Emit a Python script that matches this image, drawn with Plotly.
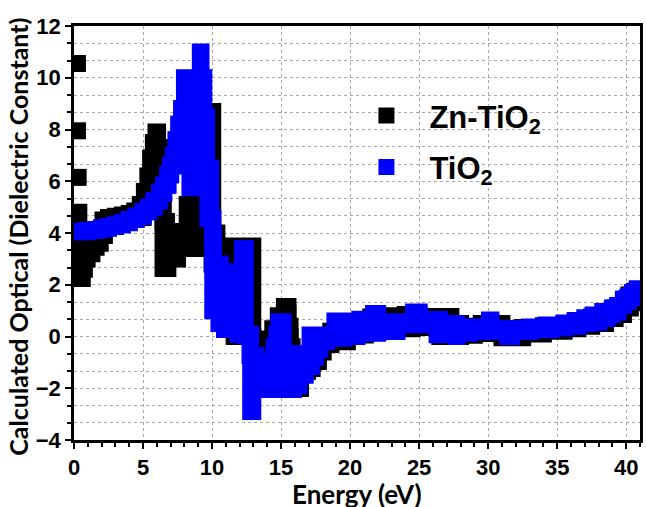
import plotly.graph_objects as go

# ---- data (energy in eV, value) ----
# TiO2 (blue): upper and lower envelope of the thick marker band
BU_E = [0.0,0.5,1.0,1.5,2.0,2.5,3.0,3.5,4.0,4.5,5.0,5.4,5.8,6.2,6.5,6.8,7.0,7.2,7.4,7.6,7.8,8.0,9.15,9.2,9.4,9.6,9.9,10.05,10.1,10.6,11.0,11.5,12.2,12.4,12.75,13.2,14.3,14.5,14.7,14.85,15.15,17.1,18.9,20.7,21.7,22.0,24.6,25.0,26.5,27.7,30.1,30.2,33.0,34.2,35.5,36.3,37.0,37.6,38.3,39.0,39.4,39.8,40.1,40.45,40.8,41.2]
BU_V = [4.05,4.07,4.10,4.14,4.19,4.25,4.32,4.41,4.52,4.65,4.82,5.0,5.25,5.55,5.85,6.25,6.6,7.0,7.6,8.2,8.8,10.0,11.0,10.0,8.5,6.5,4.56,3.8,2.8,2.5,1.5,1.0,3.4,0.04,-0.73,-1.4,-1.0,-0.4,0.1,0.57,-0.66,0.06,0.6,0.67,0.89,0.57,0.95,0.66,0.5,0.37,0.64,0.31,0.37,0.44,0.52,0.62,0.72,0.83,0.97,1.1,1.2,1.35,1.5,1.7,1.85,1.85]
BL_E = [0.0,0.5,1.0,1.5,2.0,2.5,3.0,3.5,4.0,4.5,5.0,5.4,5.8,6.2,6.5,6.8,7.0,7.2,7.4,7.6,7.8,8.4,8.5,9.7,10.05,10.5,10.9,11.9,12.8,12.95,15.9,16.3,16.75,17.2,17.5,17.8,18.3,19.5,20.5,22.0,23.4,26.3,27.7,27.75,28.6,31.4,31.7,33.0,34.5,35.5,36.5,37.3,38.0,38.6,39.0,39.4,39.8,40.2,40.6,41.2]
BL_V = [4.05,4.07,4.10,4.14,4.19,4.25,4.32,4.41,4.52,4.65,4.82,5.0,5.25,5.55,5.85,6.25,6.6,7.0,7.6,8.2,8.8,5.75,6.5,4.56,1.0,0.5,0.27,0.08,-2.9,-2.05,-1.9,-1.5,-1.16,-0.8,-0.5,-0.19,-0.07,0.0,0.13,0.19,0.45,0.07,0.0,0.13,0.19,0.0,0.19,0.26,0.33,0.4,0.5,0.55,0.7,0.85,0.95,1.2,1.45,1.55,1.62,1.7]

# Zn-TiO2 (black): upper and lower envelope, plus isolated points
KU_E = [0.0,0.35,1.9,2.1,2.5,3.0,3.5,4.0,4.4,4.8,5.1,5.35,5.55,5.75,5.94,6.05,6.2,6.35,6.45,6.7,8.2,9.0,9.3,9.55,9.8,9.95,10.05,10.35,12.95,13.5,14.0,14.4,14.8,15.24,15.5,15.65,15.8,16.0,16.2,16.4,16.9,17.3,17.7,18.0,18.6,19.5,20.5,21.5,22.5,24.0,25.0,26.0,27.3,28.0,29.5,31.0,32.5,34.0,35.5,36.5,37.5,38.5,39.2,39.8,40.2,40.6,41.2]
KU_V = [4.8,4.1,4.1,4.5,4.6,4.65,4.7,4.75,4.85,5.1,5.6,6.2,6.9,7.5,7.9,7.3,6.3,5.2,4.44,4.06,5.1,5.1,4.6,6.0,7.5,8.7,4.0,3.5,-0.7,-0.5,-0.1,0.3,0.8,1.16,0.4,-0.4,-1.1,-1.7,-2.0,-1.3,-1.0,-0.7,-0.4,-0.3,0.2,0.35,0.5,0.75,0.8,0.85,0.75,0.77,0.5,0.4,0.5,0.3,0.35,0.42,0.5,0.6,0.75,0.95,1.1,1.3,1.6,1.75,1.8]
KL_E = [0.0,0.6,0.75,0.95,1.3,1.6,1.9,2.2,2.5,3.0,4.0,5.0,5.4,6.0,6.45,6.8,7.5,8.8,10.0,10.3,10.6,10.9,11.3,11.6,12.95,13.5,14.0,14.4,14.8,15.24,15.5,15.65,15.8,16.0,16.4,16.9,17.25,17.7,18.05,18.6,19.8,21.1,23.1,24.5,26.5,28.0,29.0,31.0,32.5,34.0,35.5,36.5,37.5,38.5,39.2,39.8,40.3,41.2]
KL_V = [2.24,2.6,3.0,3.2,3.45,3.6,3.9,4.2,4.35,4.4,4.6,4.9,5.1,5.4,2.63,3.0,3.4,3.56,2.8,2.2,1.8,1.8,0.5,0.0,-0.7,-0.8,-0.5,-0.1,0.4,0.9,0.0,-0.8,-1.4,-2.0,-1.35,-1.24,-0.97,-0.6,-0.3,-0.2,0.06,0.2,0.3,0.35,0.0,0.05,0.12,-0.05,0.1,0.2,0.3,0.4,0.5,0.7,0.85,1.1,1.3,1.35]
KP_E = [0.25, 0.25, 0.3]
KP_V = [10.55, 7.95, 6.15]

X_TICKS = [0, 5, 10, 15, 20, 25, 30, 35, 40]
Y_TICKS = [-4, -2, 0, 2, 4, 6, 8, 10, 12]

BLACK = "#000000"
BLUE = "#0000ff"
BAND = 17  # marker size of the original squares

fig = go.Figure()

def band(xl, yl, xu, yu, color):
    fig.add_trace(go.Scatter(x=xl, y=yl, mode="lines", line=dict(color=color, width=BAND, shape="hv"),
                             showlegend=False, hoverinfo="skip"))
    fig.add_trace(go.Scatter(x=xu, y=yu, mode="lines", line=dict(color=color, width=BAND, shape="hv"),
                             fill="tonexty", fillcolor=color, showlegend=False, hoverinfo="skip"))

band(KL_E, KL_V, KU_E, KU_V, BLACK)
band(BL_E, BL_V, BU_E, BU_V, BLUE)
fig.add_trace(go.Scatter(x=KP_E, y=KP_V, mode="markers",
                         marker=dict(symbol="square", size=BAND, color=BLACK, line=dict(width=0)),
                         showlegend=False, hoverinfo="skip"))

# legend entries
fig.add_trace(go.Scatter(x=[None], y=[None], mode="markers", name="Zn-TiO<sub>2</sub>", legendgroup="a",
                         marker=dict(symbol="square", size=16, color=BLACK)))
fig.add_trace(go.Scatter(x=[None], y=[None], mode="markers", name="TiO<sub>2</sub>", legendgroup="b",
                         marker=dict(symbol="square", size=16, color=BLUE)))

tickfont = dict(family="Liberation Sans, Arial, sans-serif", size=22, color="black", weight="bold")
grid = dict(showgrid=True, gridcolor="#a8a8a8", griddash="dot", gridwidth=1)

fig.update_layout(
    width=646, height=507, autosize=False,
    margin=dict(l=74, r=3, t=26, b=67),
    paper_bgcolor="white", plot_bgcolor="white",
    showlegend=True,
    legend=dict(x=0.476, y=0.848, xanchor="left", yanchor="top", bgcolor="rgba(0,0,0,0)",
                font=dict(family="Liberation Sans, Arial, sans-serif", size=31, color="black", weight="bold"),
                itemwidth=76, tracegroupgap=8, traceorder="grouped"),
    xaxis=dict(range=[0, 41], tickvals=X_TICKS, ticks="outside", ticklen=6, tickwidth=2, tickcolor="black",
               showline=True, linewidth=2.5, linecolor="black", mirror=True, zeroline=False,
               tickfont=tickfont,
               minor=dict(dtick=1, tick0=0, ticks="outside", ticklen=4, tickwidth=2, tickcolor="black", showgrid=False),
               **grid),
    yaxis=dict(range=[-4, 12], tickvals=Y_TICKS, ticks="outside", ticklen=6, tickwidth=2, tickcolor="black",
               showline=True, linewidth=2.5, linecolor="black", mirror=True, zeroline=False,
               tickfont=tickfont,
               minor=dict(dtick=2/3, tick0=-4, ticks="outside", ticklen=4, tickwidth=2, tickcolor="black",
                          showgrid=True, gridcolor="#a8a8a8", griddash="dot", gridwidth=1),
               **grid),
    annotations=[
        dict(text="Energy (eV)", xref="paper", yref="paper", x=0.5, y=-0.1304, xanchor="center", yanchor="middle",
             showarrow=False, font=dict(family="Lato, Carlito, sans-serif", size=26, color="black", weight="bold")),
        dict(text="Calculated Optical (Dielectric Constant)", xref="paper", yref="paper", x=-0.098, y=0.49,
             xanchor="center", yanchor="middle", textangle=-90, showarrow=False,
             font=dict(family="Lato, Carlito, sans-serif", size=25, color="black", weight="bold")),
    ],
)

fig.write_html("out.html", config={"displayModeBar": False},
               post_script="document.body.style.margin='0px';document.body.style.overflow='hidden';")
